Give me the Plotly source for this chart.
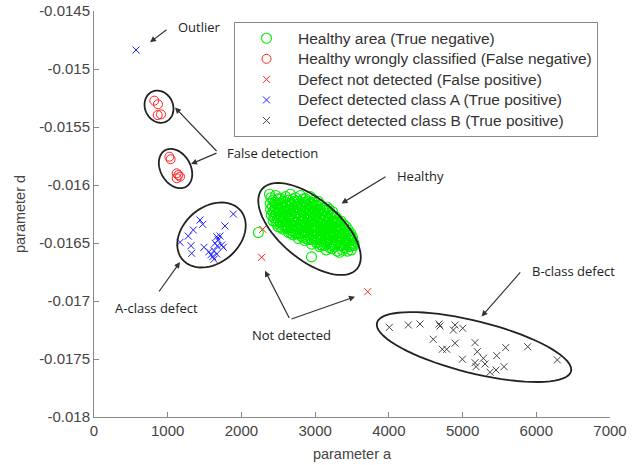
import math
import plotly.graph_objects as go

# ---------------- data ----------------
healthy_x = [
    2400, 2465, 2530, 2600, 2665, 2735, 2800, 2870, 2935, 2985,
    2430, 2500, 2565, 2635, 2700, 2770, 2840, 2905, 2970, 3040,
    2390, 2455, 2525, 2590, 2660, 2725, 2795, 2860, 2930, 2995, 3065,
    2420, 2490, 2555, 2625, 2690, 2760, 2830, 2895, 2960, 3030, 3100, 3160,
    2395, 2460, 2530, 2595, 2665, 2730, 2800, 2865, 2935, 3000, 3070, 3135, 3190,
    2425, 2495, 2560, 2630, 2695, 2765, 2830, 2900, 2965, 3035, 3105, 3170, 3235,
    2405, 2470, 2540, 2605, 2675, 2740, 2810, 2875, 2945, 3010, 3080, 3145, 3215, 3275,
    2440, 2505, 2575, 2640, 2710, 2775, 2845, 2910, 2980, 3045, 3115, 3180, 3250, 3310,
    2430, 2495, 2565, 2630, 2700, 2765, 2835, 2900, 2970, 3035, 3105, 3170, 3240, 3300, 3350,
    2470, 2530, 2600, 2665, 2735, 2800, 2870, 2935, 3005, 3070, 3140, 3205, 3275, 3335, 3385,
    2500, 2565, 2635, 2700, 2770, 2835, 2905, 2970, 3040, 3105, 3175, 3240, 3310, 3370, 3420,
    2560, 2600, 2670, 2735, 2805, 2870, 2940, 3005, 3075, 3140, 3210, 3275, 3345, 3400, 3450,
    2640, 2705, 2770, 2840, 2905, 2975, 3040, 3110, 3175, 3245, 3310, 3380, 3440, 3485,
    2700, 2740, 2810, 2875, 2945, 3010, 3080, 3145, 3215, 3280, 3350, 3410, 3470, 3505,
    2770, 2840, 2910, 2975, 3045, 3110, 3180, 3245, 3315, 3380, 3445, 3500,
    2860, 2945, 3010, 3080, 3145, 3215, 3280, 3350, 3415, 3475, 3525,
    2950, 3020, 3090, 3160, 3225, 3295, 3360, 3430, 3495, 3530,
    3060, 3125, 3195, 3260, 3330, 3395, 3460, 3510,
    3150, 3230, 3300, 3370, 3440, 3490,
    2950, 3330, 2229, 2380,
    2470, 2540, 2610, 2680, 2750, 2815, 2885, 2950, 3015,
    2445, 2515, 2580, 2650, 2715, 2785, 2850, 2920, 2985, 3050, 3120,
    2455, 2525, 2590, 2660, 2725, 2795, 2860, 2930, 2995, 3065, 3130, 3200,
    2480, 2550, 2615, 2685, 2750, 2820, 2885, 2955, 3020, 3090, 3155, 3225, 3285,
    2535, 2600, 2670, 2735, 2805, 2870, 2940, 3005, 3075, 3140, 3210, 3275, 3340,
    2670, 2735, 2805, 2870, 2940, 3005, 3075, 3140, 3210, 3275, 3345, 3410,
    2880, 2945, 3010, 3080, 3145, 3215, 3280, 3345, 3410, 3460,
    3080, 3150, 3215, 3285, 3350, 3420, 3480,
]
healthy_y = [
    -0.01611, -0.01609, -0.01612, -0.01610, -0.01608, -0.01611, -0.01609, -0.01612, -0.01610, -0.01613,
    -0.01613, -0.01612, -0.01614, -0.01613, -0.01612, -0.01614, -0.01612, -0.01614, -0.01615, -0.01614,
    -0.01616, -0.01615, -0.01617, -0.01615, -0.01616, -0.01614, -0.01617, -0.01615, -0.01616, -0.01618, -0.01617,
    -0.01618, -0.01617, -0.01619, -0.01618, -0.01617, -0.01619, -0.01618, -0.01617, -0.01619, -0.01618, -0.01620, -0.01619,
    -0.01621, -0.01620, -0.01622, -0.01620, -0.01621, -0.01619, -0.01622, -0.01620, -0.01621, -0.01622, -0.01621, -0.01622, -0.01621,
    -0.01623, -0.01622, -0.01624, -0.01623, -0.01622, -0.01624, -0.01623, -0.01622, -0.01624, -0.01623, -0.01625, -0.01624, -0.01623,
    -0.01626, -0.01625, -0.01627, -0.01625, -0.01626, -0.01624, -0.01627, -0.01625, -0.01626, -0.01627, -0.01626, -0.01627, -0.01626, -0.01627,
    -0.01628, -0.01627, -0.01629, -0.01628, -0.01627, -0.01629, -0.01628, -0.01627, -0.01629, -0.01628, -0.01630, -0.01629, -0.01628, -0.01630,
    -0.01631, -0.01630, -0.01632, -0.01630, -0.01631, -0.01629, -0.01632, -0.01630, -0.01631, -0.01632, -0.01631, -0.01632, -0.01631, -0.01632, -0.01631,
    -0.01633, -0.01632, -0.01634, -0.01633, -0.01632, -0.01634, -0.01633, -0.01632, -0.01634, -0.01633, -0.01635, -0.01634, -0.01633, -0.01635, -0.01634,
    -0.01636, -0.01635, -0.01637, -0.01635, -0.01636, -0.01634, -0.01637, -0.01635, -0.01636, -0.01637, -0.01636, -0.01637, -0.01636, -0.01637, -0.01636,
    -0.01638, -0.01637, -0.01639, -0.01638, -0.01637, -0.01639, -0.01638, -0.01637, -0.01639, -0.01638, -0.01640, -0.01639, -0.01638, -0.01640, -0.01639,
    -0.01641, -0.01640, -0.01642, -0.01640, -0.01641, -0.01639, -0.01642, -0.01640, -0.01641, -0.01642, -0.01641, -0.01642, -0.01641, -0.01642,
    -0.01643, -0.01642, -0.01644, -0.01643, -0.01642, -0.01644, -0.01643, -0.01642, -0.01644, -0.01643, -0.01645, -0.01644, -0.01643, -0.01645,
    -0.01646, -0.01645, -0.01647, -0.01645, -0.01646, -0.01644, -0.01647, -0.01645, -0.01646, -0.01647, -0.01646, -0.01647,
    -0.01648, -0.01647, -0.01649, -0.01648, -0.01647, -0.01649, -0.01648, -0.01647, -0.01649, -0.01648, -0.01650,
    -0.01651, -0.01650, -0.01652, -0.01650, -0.01651, -0.01649, -0.01652, -0.01650, -0.01651, -0.01652,
    -0.01653, -0.01652, -0.01654, -0.01653, -0.01652, -0.01654, -0.01653, -0.01652,
    -0.01656, -0.01655, -0.01657, -0.01656, -0.01657, -0.01656,
    -0.01662, -0.01658, -0.01641, -0.01608,
    -0.016165, -0.016160, -0.016170, -0.016163, -0.016168, -0.016160, -0.016172, -0.016165, -0.016175,
    -0.016215, -0.016210, -0.016220, -0.016212, -0.016218, -0.016210, -0.016222, -0.016215, -0.016218, -0.016225, -0.016220,
    -0.016265, -0.016260, -0.016270, -0.016262, -0.016268, -0.016260, -0.016272, -0.016265, -0.016268, -0.016275, -0.016270, -0.016272,
    -0.016315, -0.016310, -0.016320, -0.016312, -0.016318, -0.016310, -0.016322, -0.016315, -0.016318, -0.016325, -0.016320, -0.016322, -0.016318,
    -0.016365, -0.016360, -0.016370, -0.016362, -0.016368, -0.016360, -0.016372, -0.016365, -0.016368, -0.016375, -0.016370, -0.016372, -0.016368,
    -0.016415, -0.016410, -0.016420, -0.016412, -0.016418, -0.016410, -0.016422, -0.016415, -0.016418, -0.016425, -0.016420, -0.016422,
    -0.016465, -0.016460, -0.016470, -0.016462, -0.016468, -0.016460, -0.016472, -0.016465, -0.016468, -0.016475,
    -0.016515, -0.016510, -0.016520, -0.016512, -0.016518, -0.016510, -0.016522,
]

fn_x = [818, 868, 864, 909, 1022, 1040, 1122, 1144, 1167, 1122]
fn_y = [-0.015273, -0.015304, -0.015397, -0.015391, -0.015756, -0.015778,
        -0.015899, -0.015914, -0.015928, -0.015942]

fp_x = [2289, 2275, 3713]
fp_y = [-0.016382, -0.016623, -0.016920]

a_x = [570, 1890, 1438, 1475, 1777, 1347, 1279, 1167, 1316, 1325, 1492, 1560, 1665,
       1686, 1709, 1642, 1673, 1628, 1665, 1610, 1754, 1732, 1587, 1628]
a_y = [-0.014836, -0.016250, -0.016302, -0.016339, -0.016353, -0.016388, -0.016440,
       -0.016494, -0.016523, -0.016589, -0.016537, -0.016575, -0.016446, -0.016474,
       -0.016440, -0.016502, -0.016526, -0.016566, -0.016595, -0.016618, -0.016537,
       -0.016517, -0.016601, -0.016640]

b_x = [4006, 4264, 4423, 4681, 4694, 4898, 4875, 5002, 4603, 4898, 4725, 4785, 5169,
       5200, 4997, 5169, 5183, 5282, 5305, 5463, 5585, 5884, 6286, 5372, 5454, 5562]
b_y = [-0.017227, -0.017207, -0.017198, -0.017198, -0.017215, -0.017207, -0.017250,
       -0.017235, -0.017330, -0.017364, -0.017416, -0.017416, -0.017359, -0.017437,
       -0.017502, -0.017532, -0.017566, -0.017494, -0.017543, -0.017471, -0.017402,
       -0.017394, -0.017508, -0.017614, -0.017595, -0.017566]

series_names = [
    "Healthy area (True negative)",
    "Healthy wrongly classified (False negative)",
    "Defect not detected (False positive)",
    "Defect detected class A (True positive)",
    "Defect detected class B (True positive)",
]

x_ticks = [0, 1000, 2000, 3000, 4000, 5000, 6000, 7000]
y_ticks = [-0.018, -0.0175, -0.017, -0.0165, -0.016, -0.0155, -0.015, -0.0145]
y_ticktext = ["-0.018", "-0.0175", "-0.017", "-0.0165", "-0.016", "-0.0155", "-0.015", "-0.0145"]

# ellipse annotations: centre (data), semi-axes in screen px, rotation deg
ellipses = [
    (882, -0.015325, 16.5, 14, 65),
    (1106, -0.015858, 21, 15, 60),
    (1594, -0.016431, 38, 28, -40),
    (2924, -0.016379, 62, 30, 40),
    (5155, -0.017397, 100, 26, 14),
]

# ---------------- figure ----------------
W, H = 639, 465
ML, MR, MT, MB = 94, 29, 11, 48
XR = [0, 7000]
YR = [-0.018, -0.0145]
XU = (XR[1] - XR[0]) / (W - ML - MR)
YU = (YR[1] - YR[0]) / (H - MT - MB)


def leg(name):
    return f"<span style='font-size:15.5px'>{name}</span>"


fig = go.Figure()
fig.add_trace(go.Scatter(x=healthy_x, y=healthy_y, mode="markers", name=leg(series_names[0]),
                         marker=dict(symbol="circle-open", size=10, color="#00f000",
                                     line=dict(width=1.1, color="#00f000"))))
fig.add_trace(go.Scatter(x=fn_x, y=fn_y, mode="markers", name=leg(series_names[1]),
                         marker=dict(symbol="circle-open", size=9, color="#ff2020",
                                     line=dict(width=1, color="#ff2020"))))
fig.add_trace(go.Scatter(x=fp_x, y=fp_y, mode="markers", name=leg(series_names[2]),
                         marker=dict(symbol="x-thin-open", size=7, color="#ff2020",
                                     line=dict(width=1, color="#ff2020"))))
fig.add_trace(go.Scatter(x=a_x, y=a_y, mode="markers", name=leg(series_names[3]),
                         marker=dict(symbol="x-thin-open", size=7, color="#2020ff",
                                     line=dict(width=1, color="#2020ff"))))
fig.add_trace(go.Scatter(x=b_x, y=b_y, mode="markers", name=leg(series_names[4]),
                         marker=dict(symbol="x-thin-open", size=7, color="#444444",
                                     line=dict(width=1, color="#444444"))))

shapes = []
for cx, cy, a, b, ang in ellipses:
    th = math.radians(ang)
    pts = []
    for k in range(73):
        t = math.radians(k * 5)
        ex, ey = a * math.cos(t), b * math.sin(t)
        sx = ex * math.cos(th) - ey * math.sin(th)
        sy = ex * math.sin(th) + ey * math.cos(th)
        pts.append((cx + sx * XU, cy - sy * YU))
    path = "M " + " L ".join(f"{px},{py}" for px, py in pts) + " Z"
    shapes.append(dict(type="path", path=path, xref="x", yref="y",
                       line=dict(color="#222222", width=1.8)))

tfont = dict(family="Open Sans", size=13, color="#222222")
texts = [
    ("Outlier", 1425, -0.014638, "center"),
    ("False detection", 1777, -0.015724, "left"),
    ("Healthy", 4084, -0.015922, "left"),
    ("A-class defect", 848, -0.017060, "center"),
    ("Not detected", 2116, -0.017289, "left"),
    ("B-class defect", 5915, -0.016741, "left"),
]
arrows = [
    (1004, -0.014651, 760, -0.014770),
    (1682, -0.015720, 1099, -0.015332),
    (1682, -0.015720, 1316, -0.015819),
    (3975, -0.015922, 3358, -0.016159),
    (868, -0.016931, 1167, -0.016664),
    (2659, -0.017160, 2320, -0.016739),
    (2659, -0.017160, 3541, -0.016963),
    (5800, -0.016741, 5257, -0.017134),
]
annotations = []
for t, x, y, anc in texts:
    annotations.append(dict(text=t, x=x, y=y, xref="x", yref="y", showarrow=False,
                            xanchor=anc, yanchor="middle", font=tfont))
for tx, ty, hx, hy in arrows:
    annotations.append(dict(text="", x=hx, y=hy, ax=tx, ay=ty, xref="x", yref="y",
                            axref="x", ayref="y", showarrow=True, arrowhead=2,
                            arrowsize=1, arrowwidth=1.2, arrowcolor="#333333",
                            standoff=0, startstandoff=0))

axis_common = dict(showline=True, linecolor="#888888", linewidth=1, ticks="inside",
                   ticklen=5, tickcolor="#888888", showgrid=False, zeroline=False,
                   mirror=False, automargin=False,
                   tickfont=dict(family="Liberation Sans", size=15, color="#444444"),
                   title_font=dict(family="Liberation Sans", size=14.5, color="#444444"))

fig.update_layout(
    width=W, height=H,
    margin=dict(l=ML, r=MR, t=MT, b=MB, autoexpand=False),
    paper_bgcolor="white", plot_bgcolor="white",
    shapes=shapes, annotations=annotations,
    showlegend=True,
    legend=dict(x=(234 - ML) / (W - ML - MR), y=(H - MB - 22) / (H - MT - MB),
                xanchor="left", yanchor="top", bgcolor="white",
                bordercolor="#888888", borderwidth=1, itemwidth=53,
                tracegroupgap=0,
                font=dict(family="Liberation Sans", size=13.5, color="#333333")),
    xaxis=dict(range=XR, tickvals=x_ticks, title=dict(text="parameter a", standoff=10),
               **axis_common),
    yaxis=dict(range=YR, tickvals=y_ticks, ticktext=y_ticktext,
               title=dict(text="parameter d", standoff=10), **axis_common),
)

fig.write_html("out.html")
